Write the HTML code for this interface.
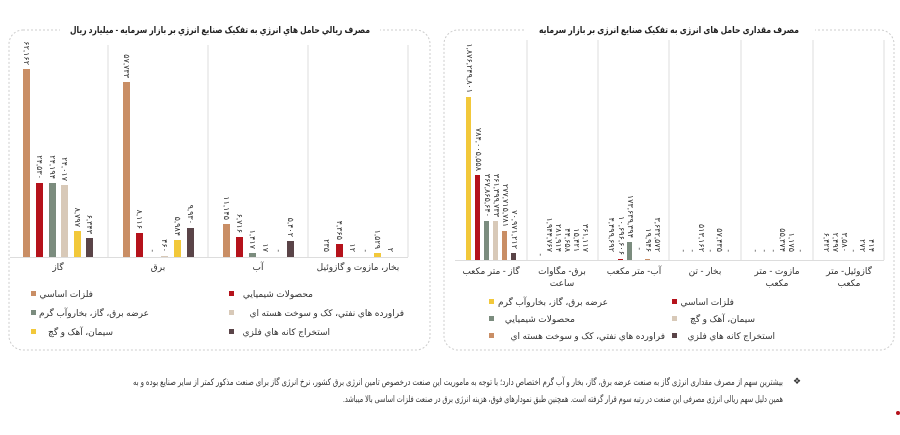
<!DOCTYPE html>
<html><head><meta charset="utf-8"><style>
body{margin:0;background:#fff;width:900px;height:430px;overflow:hidden}
svg text{font-family:"Liberation Sans","DejaVu Sans",sans-serif;fill:#333}
.t{font-weight:bold;font-size:9.5px;fill:#222}
.v{font-size:8px;fill:#444}
.c{font-size:9px;fill:#444}
.l{font-size:9px;fill:#444}
.p{font-size:9px;fill:#333}
</style></head><body>
<svg width="900" height="430" xmlns="http://www.w3.org/2000/svg">
<rect x="9" y="30" width="421" height="320" rx="14" fill="none" stroke="#ccc" stroke-dasharray="2,2"/>
<rect x="444" y="30" width="450" height="320" rx="14" fill="none" stroke="#ccc" stroke-dasharray="2,2"/>
<rect x="60" y="22" width="320" height="16" fill="#fff"/>
<rect x="525" y="22" width="290" height="16" fill="#fff"/>
<text class="t" x="220" y="33" text-anchor="middle" direction="rtl" textLength="300" lengthAdjust="spacingAndGlyphs">مصرف ريالي حامل هاي انرژي به تفکيک صنايع انرژي بر بازار سرمايه - ميليارد ريال</text>
<text class="t" x="669" y="33" text-anchor="middle" direction="rtl" textLength="260" lengthAdjust="spacingAndGlyphs">مصرف مقداری حامل های انرژی به تفکیک صنایع انرژی بر بازار سرمایه</text>

<g stroke="#ddd" stroke-width="1">
<line x1="108" y1="45" x2="108" y2="257"/><line x1="208" y1="45" x2="208" y2="257"/><line x1="308" y1="45" x2="308" y2="257"/><line x1="408" y1="45" x2="408" y2="257"/>
<line x1="10" y1="257.5" x2="408" y2="257.5"/>
</g>
<g>
<rect x="23" y="69" width="7" height="188" fill="#c98e65"/>
<rect x="36" y="183" width="7" height="74" fill="#b5121b"/>
<rect x="49" y="183" width="7" height="74" fill="#7b8c7e"/>
<rect x="61" y="185" width="7" height="72" fill="#d8c9b8"/>
<rect x="74" y="231" width="7" height="26" fill="#f2c83a"/>
<rect x="86" y="238" width="7" height="19" fill="#5a4448"/>
<rect x="123" y="82" width="7" height="175" fill="#c98e65"/>
<rect x="136" y="233" width="7" height="24" fill="#b5121b"/>
<rect x="161" y="256" width="7" height="1" fill="#d8c9b8"/>
<rect x="174" y="240" width="7" height="17" fill="#f2c83a"/>
<rect x="187" y="228" width="7" height="29" fill="#5a4448"/>
<rect x="223" y="224" width="7" height="33" fill="#c98e65"/>
<rect x="236" y="237" width="7" height="20" fill="#b5121b"/>
<rect x="249" y="253" width="7" height="4" fill="#7b8c7e"/>
<rect x="287" y="241" width="7" height="16" fill="#5a4448"/>
<rect x="336" y="244" width="7" height="13" fill="#b5121b"/>
<rect x="374" y="253" width="7" height="4" fill="#f2c83a"/>
</g>
<g class="v" text-anchor="end">
<text transform="translate(24,65) rotate(90)">۶۲,۱۶۲</text>
<text transform="translate(37,179) rotate(90)">۲۴,۵۳۰</text>
<text transform="translate(50,179) rotate(90)">۲۴,۱۹۴</text>
<text transform="translate(62,181) rotate(90)">۲۴,۰۱۷</text>
<text transform="translate(75,227) rotate(90)">۸,۷۹۷</text>
<text transform="translate(87,234) rotate(90)">۶,۳۴۳</text>
<text transform="translate(124,78) rotate(90)">۵۷,۷۳۳</text>
<text transform="translate(137,229) rotate(90)">۸,۱۱۶</text>
<text transform="translate(150,252) rotate(90)">-</text>
<text transform="translate(162,252) rotate(90)">۴۶۰</text>
<text transform="translate(175,236) rotate(90)">۵,۹۸۴</text>
<text transform="translate(188,224) rotate(90)">۹,۹۳۰</text>
<text transform="translate(224,220) rotate(90)">۱۱,۱۴۵</text>
<text transform="translate(237,233) rotate(90)">۶,۷۱۶</text>
<text transform="translate(250,249) rotate(90)">۱,۴۱۷</text>
<text transform="translate(263,252) rotate(90)">۱۷</text>
<text transform="translate(276,252) rotate(90)">-</text>
<text transform="translate(288,237) rotate(90)">۵,۴۰۲</text>
<text transform="translate(324,252) rotate(90)">۲۳۵</text>
<text transform="translate(337,240) rotate(90)">۴,۳۶۵</text>
<text transform="translate(350,252) rotate(90)">۱۲</text>
<text transform="translate(363,252) rotate(90)">-</text>
<text transform="translate(375,249) rotate(90)">۱,۵۲۹</text>
<text transform="translate(388,252) rotate(90)">۲</text>
</g>
<g class="c" text-anchor="middle" direction="rtl">
<text x="58" y="270">گاز</text><text x="158" y="270">برق</text><text x="258" y="270">آب</text><text x="358" y="270">بخار، مازوت و گازوئيل</text>
</g>
<g class="l" direction="rtl">
<rect x="31" y="291" width="5" height="5" fill="#c98e65"/><text x="93" y="297">فلزات اساسي</text>
<rect x="229" y="291" width="5" height="5" fill="#b5121b"/><text x="313" y="297">محصولات شيميايي</text>
<rect x="31" y="310" width="5" height="5" fill="#7b8c7e"/><text x="149" y="316">عرضه برق، گاز، بخاروآب گرم</text>
<rect x="229" y="310" width="5" height="5" fill="#d8c9b8"/><text x="404" y="316">فراورده هاي نفتي، کک و سوخت هسته اي</text>
<rect x="31" y="329" width="5" height="5" fill="#f2c83a"/><text x="113" y="335">سيمان، آهک و گچ</text>
<rect x="229" y="329" width="5" height="5" fill="#5a4448"/><text x="330" y="335">استخراج کانه هاي فلزي</text>
</g>

<g stroke="#ddd" stroke-width="1">
<line x1="527" y1="40" x2="527" y2="260"/><line x1="598" y1="40" x2="598" y2="260"/><line x1="669" y1="40" x2="669" y2="260"/><line x1="741" y1="40" x2="741" y2="260"/><line x1="813" y1="40" x2="813" y2="260"/><line x1="884" y1="40" x2="884" y2="260"/>
<line x1="455" y1="260.5" x2="884" y2="260.5"/>
</g>
<g>
<rect x="466" y="97" width="5" height="163" fill="#f2c83a"/>
<rect x="475" y="175" width="5" height="85" fill="#b5121b"/>
<rect x="484" y="221" width="5" height="39" fill="#7b8c7e"/>
<rect x="493" y="221" width="5" height="39" fill="#d8c9b8"/>
<rect x="502" y="231" width="5" height="29" fill="#c98e65"/>
<rect x="511" y="253" width="5" height="7" fill="#5a4448"/>
<rect x="618" y="259" width="5" height="1" fill="#b5121b"/>
<rect x="627" y="242" width="5" height="18" fill="#7b8c7e"/>
<rect x="645" y="259" width="5" height="1" fill="#c98e65"/>
</g>
<g class="v" text-anchor="end">
<text transform="translate(467,93) rotate(90)">۱,۸۷۶,۲۴۹,۸۰۱</text>
<text transform="translate(476,171) rotate(90)">۷۸۴,۰۰۵,۵۵۸</text>
<text transform="translate(485,217) rotate(90)">۳۶۷,۸۶۵,۶۴۰</text>
<text transform="translate(494,217) rotate(90)">۳۶۱,۳۹۹,۷۳۳</text>
<text transform="translate(503,227) rotate(90)">۲۷۷,۷۱۵,۷۸۱</text>
<text transform="translate(512,249) rotate(90)">۷۰,۹۷۱,۲۱۲</text>
<text transform="translate(538,256) rotate(90)">-</text>
<text transform="translate(547,252) rotate(90)">۱,۹۴۴,۷۶۷</text>
<text transform="translate(556,252) rotate(90)">۲۸۱,۹۱۴</text>
<text transform="translate(565,252) rotate(90)">۴۴,۶۵۸</text>
<text transform="translate(574,252) rotate(90)">۱۵,۴۲۱</text>
<text transform="translate(583,252) rotate(90)">۳۶۱,۱۱۷</text>
<text transform="translate(609,252) rotate(90)">۴,۴۹۹,۶۹۲</text>
<text transform="translate(619,255) rotate(90)">۱۰,۶۹۶,۶۰۶</text>
<text transform="translate(628,238) rotate(90)">۱۷۳,۶۳۹,۳۹۴</text>
<text transform="translate(637,250) rotate(90)">-</text>
<text transform="translate(646,252) rotate(90)">۱۹,۹۴۶</text>
<text transform="translate(655,252) rotate(90)">۳,۶۳۲,۵۷۲</text>
<text transform="translate(681,252) rotate(90)">-</text>
<text transform="translate(690,252) rotate(90)">-</text>
<text transform="translate(699,252) rotate(90)">۵۱۳,۱۶۲</text>
<text transform="translate(708,252) rotate(90)">-</text>
<text transform="translate(717,252) rotate(90)">۵۷,۴۳۵</text>
<text transform="translate(726,252) rotate(90)">-</text>
<text transform="translate(753,252) rotate(90)">-</text>
<text transform="translate(762,252) rotate(90)">-</text>
<text transform="translate(771,252) rotate(90)">-</text>
<text transform="translate(780,252) rotate(90)">۵۵,۳۷۴</text>
<text transform="translate(789,252) rotate(90)">۱,۱۷۵</text>
<text transform="translate(798,252) rotate(90)">-</text>
<text transform="translate(824,252) rotate(90)">۶,۴۲۲</text>
<text transform="translate(833,252) rotate(90)">۲,۴۹۷</text>
<text transform="translate(842,252) rotate(90)">۳,۵۸۰</text>
<text transform="translate(851,252) rotate(90)">-</text>
<text transform="translate(860,252) rotate(90)">۲۷۲</text>
<text transform="translate(869,252) rotate(90)">۴۱۴</text>
</g>
<g class="c" text-anchor="middle" direction="rtl">
<text x="491" y="274">گاز - متر مکعب</text>
<text x="562" y="274">برق- مگاوات</text><text x="562" y="286">ساعت</text>
<text x="634" y="274">آب- متر مکعب</text>
<text x="705" y="274">بخار - تن</text>
<text x="777" y="274">مازوت - متر</text><text x="777" y="286">مکعب</text>
<text x="849" y="274">گازوئیل- متر</text><text x="849" y="286">مکعب</text>
</g>
<g class="l" direction="rtl">
<rect x="489" y="299" width="5" height="5" fill="#f2c83a"/><text x="608" y="305">عرضه برق، گاز، بخاروآب گرم</text>
<rect x="672" y="299" width="5" height="5" fill="#b5121b"/><text x="734" y="305">فلزات اساسي</text>
<rect x="489" y="316" width="5" height="5" fill="#7b8c7e"/><text x="575" y="322">محصولات شيميايي</text>
<rect x="672" y="316" width="5" height="5" fill="#d8c9b8"/><text x="755" y="322">سيمان، آهک و گچ</text>
<rect x="489" y="333" width="5" height="5" fill="#c98e65"/><text x="665" y="339">فراورده هاي نفتي، کک و سوخت هسته اي</text>
<rect x="672" y="333" width="5" height="5" fill="#5a4448"/><text x="775" y="339">استخراج کانه هاي فلزي</text>
</g>

<text x="797" y="384" font-size="9" fill="#2a9a8a" text-anchor="middle">❖</text>
<text class="p" x="783" y="385" direction="rtl" textLength="650" lengthAdjust="spacingAndGlyphs">بیشترین سهم از مصرف مقداری انرژی گاز به صنعت عرضه برق، گاز، بخار و آب گرم اختصاص دارد؛ با توجه به ماموریت این صنعت درخصوص تامین انرژی برق کشور، نرخ انرژی گاز برای صنعت مذکور کمتر از سایر صنایع بوده و به</text>
<text class="p" x="783" y="402" direction="rtl" textLength="440" lengthAdjust="spacingAndGlyphs">همین دلیل سهم ریالی انرژی مصرفی این صنعت در رتبه سوم قرار گرفته است. همچنین طبق نمودارهای فوق، هزینه انرژی برق در صنعت فلزات اساسی بالا میباشد.</text>
<circle cx="898" cy="413" r="2" fill="#b5121b"/>
</svg>
</body></html>
